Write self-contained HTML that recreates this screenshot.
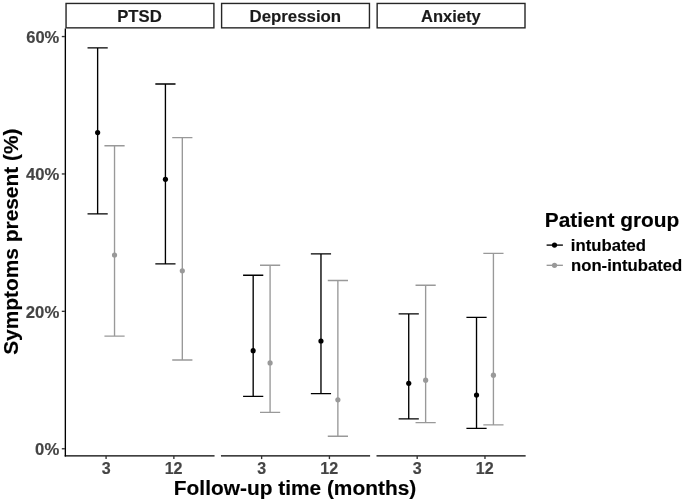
<!DOCTYPE html>
<html><head><meta charset="utf-8"><title>Symptoms chart</title>
<style>
html,body{margin:0;padding:0;background:#fff;}
body{width:685px;height:504px;overflow:hidden;font-family:"Liberation Sans",sans-serif;}
svg{display:block;will-change:transform;}
text{font-family:"Liberation Sans",sans-serif;font-weight:bold;}
</style></head>
<body>
<svg width="685" height="504" viewBox="0 0 685 504">
<rect width="685" height="504" fill="#ffffff"/>
<rect x="66.05" y="3.45" width="147.85" height="24.4" fill="#fff" stroke="#262626" stroke-width="1.4"/>
<text x="117.20" y="21.7" font-size="16.3" fill="#1a1a1a" stroke="#1a1a1a" stroke-width="0.15" textLength="44.56" lengthAdjust="spacingAndGlyphs">PTSD</text>
<path d="M64.70 455.9H214.55" stroke="#000000" stroke-width="1.35" fill="none"/>
<path d="M106.08 455.9V459.09999999999997" stroke="#333333" stroke-width="1.35"/>
<text x="101.71" y="473.9" font-size="16.3" fill="#444444" stroke="#444444" stroke-width="0.15" textLength="8.92" lengthAdjust="spacingAndGlyphs">3</text>
<path d="M87.53 47.9H107.73M97.63 47.9V213.8M87.53 213.8H107.73" stroke="#000000" stroke-width="1.35" fill="none"/>
<circle cx="97.63" cy="132.6" r="2.6" fill="#000000"/>
<path d="M104.43 145.7H124.63M114.53 145.7V336.1M104.43 336.1H124.63" stroke="#999999" stroke-width="1.35" fill="none"/>
<circle cx="114.53" cy="255.0" r="2.6" fill="#999999"/>
<path d="M173.87 455.9V459.09999999999997" stroke="#333333" stroke-width="1.35"/>
<text x="164.68" y="473.9" font-size="16.3" fill="#444444" stroke="#444444" stroke-width="0.15" textLength="17.91" lengthAdjust="spacingAndGlyphs">12</text>
<path d="M155.32 84.0H175.52M165.42 84.0V263.9M155.32 263.9H175.52" stroke="#000000" stroke-width="1.35" fill="none"/>
<circle cx="165.42" cy="179.3" r="2.6" fill="#000000"/>
<path d="M172.22 137.6H192.42M182.32 137.6V360.0M172.22 360.0H192.42" stroke="#999999" stroke-width="1.35" fill="none"/>
<circle cx="182.32" cy="270.8" r="2.6" fill="#999999"/>
<rect x="221.60" y="3.45" width="147.85" height="24.4" fill="#fff" stroke="#262626" stroke-width="1.4"/>
<text x="249.49" y="21.7" font-size="16.3" fill="#1a1a1a" stroke="#1a1a1a" stroke-width="0.15" textLength="91.66" lengthAdjust="spacingAndGlyphs">Depression</text>
<path d="M220.95 455.9H370.10" stroke="#000000" stroke-width="1.35" fill="none"/>
<path d="M261.63 455.9V459.09999999999997" stroke="#333333" stroke-width="1.35"/>
<text x="257.26" y="473.9" font-size="16.3" fill="#444444" stroke="#444444" stroke-width="0.15" textLength="8.92" lengthAdjust="spacingAndGlyphs">3</text>
<path d="M243.08 275.2H263.28M253.18 275.2V396.4M243.08 396.4H263.28" stroke="#000000" stroke-width="1.35" fill="none"/>
<circle cx="253.18" cy="350.7" r="2.6" fill="#000000"/>
<path d="M259.98 265.2H280.18M270.08 265.2V412.4M259.98 412.4H280.18" stroke="#999999" stroke-width="1.35" fill="none"/>
<circle cx="270.08" cy="362.9" r="2.6" fill="#999999"/>
<path d="M329.42 455.9V459.09999999999997" stroke="#333333" stroke-width="1.35"/>
<text x="320.23" y="473.9" font-size="16.3" fill="#444444" stroke="#444444" stroke-width="0.15" textLength="17.91" lengthAdjust="spacingAndGlyphs">12</text>
<path d="M310.87 253.8H331.07M320.97 253.8V393.6M310.87 393.6H331.07" stroke="#000000" stroke-width="1.35" fill="none"/>
<circle cx="320.97" cy="341.0" r="2.6" fill="#000000"/>
<path d="M327.77 280.5H347.97M337.87 280.5V436.2M327.77 436.2H347.97" stroke="#999999" stroke-width="1.35" fill="none"/>
<circle cx="337.87" cy="399.8" r="2.6" fill="#999999"/>
<rect x="377.15" y="3.45" width="147.85" height="24.4" fill="#fff" stroke="#262626" stroke-width="1.4"/>
<text x="420.97" y="21.7" font-size="16.3" fill="#1a1a1a" stroke="#1a1a1a" stroke-width="0.15" textLength="59.69" lengthAdjust="spacingAndGlyphs">Anxiety</text>
<path d="M376.50 455.9H525.65" stroke="#000000" stroke-width="1.35" fill="none"/>
<path d="M417.18 455.9V459.09999999999997" stroke="#333333" stroke-width="1.35"/>
<text x="412.81" y="473.9" font-size="16.3" fill="#444444" stroke="#444444" stroke-width="0.15" textLength="8.92" lengthAdjust="spacingAndGlyphs">3</text>
<path d="M398.63 313.8H418.83M408.73 313.8V418.8M398.63 418.8H418.83" stroke="#000000" stroke-width="1.35" fill="none"/>
<circle cx="408.73" cy="383.3" r="2.6" fill="#000000"/>
<path d="M415.53 285.2H435.73M425.63 285.2V422.6M415.53 422.6H435.73" stroke="#999999" stroke-width="1.35" fill="none"/>
<circle cx="425.63" cy="380.2" r="2.6" fill="#999999"/>
<path d="M484.97 455.9V459.09999999999997" stroke="#333333" stroke-width="1.35"/>
<text x="475.78" y="473.9" font-size="16.3" fill="#444444" stroke="#444444" stroke-width="0.15" textLength="17.91" lengthAdjust="spacingAndGlyphs">12</text>
<path d="M466.42 317.4H486.62M476.52 317.4V428.3M466.42 428.3H486.62" stroke="#000000" stroke-width="1.35" fill="none"/>
<circle cx="476.52" cy="395.0" r="2.6" fill="#000000"/>
<path d="M483.32 253.3H503.52M493.42 253.3V424.8M483.32 424.8H503.52" stroke="#999999" stroke-width="1.35" fill="none"/>
<circle cx="493.42" cy="375.2" r="2.6" fill="#999999"/>
<path d="M65.35 28.45V456.575" stroke="#000000" stroke-width="1.35" fill="none"/>
<path d="M61.80 448.75H64.90" stroke="#333333" stroke-width="1.35"/>
<text x="35.11" y="454.95" font-size="16.3" fill="#444444" stroke="#444444" stroke-width="0.15" textLength="24.12" lengthAdjust="spacingAndGlyphs">0%</text>
<path d="M61.80 311.35H64.90" stroke="#333333" stroke-width="1.35"/>
<text x="25.81" y="317.55" font-size="16.3" fill="#444444" stroke="#444444" stroke-width="0.15" textLength="33.47" lengthAdjust="spacingAndGlyphs">20%</text>
<path d="M61.80 173.95H64.90" stroke="#333333" stroke-width="1.35"/>
<text x="25.99" y="180.15" font-size="16.3" fill="#444444" stroke="#444444" stroke-width="0.15" textLength="33.28" lengthAdjust="spacingAndGlyphs">40%</text>
<path d="M61.80 36.55H64.90" stroke="#333333" stroke-width="1.35"/>
<text x="26.22" y="42.75" font-size="16.3" fill="#444444" stroke="#444444" stroke-width="0.15" textLength="33.06" lengthAdjust="spacingAndGlyphs">60%</text>
<text x="173.86" y="495.2" font-size="20.7" fill="#000" stroke="#000" stroke-width="0.15" textLength="242.34" lengthAdjust="spacingAndGlyphs">Follow-up time (months)</text>
<text transform="translate(17.6 354.25) rotate(-90)" x="-0.63" y="0" font-size="20.7" fill="#000" stroke="#000" stroke-width="0.15" textLength="226.39" lengthAdjust="spacingAndGlyphs">Symptoms present (%)</text>
<text x="544.73" y="226.9" font-size="20.3" fill="#000" stroke="#000" stroke-width="0.15" textLength="134.57" lengthAdjust="spacingAndGlyphs">Patient group</text>
<path d="M546.6 245.1H562.9" stroke="#000000" stroke-width="1.35"/><circle cx="554.5" cy="245.1" r="2.6" fill="#000000"/>
<path d="M546.6 265.3H562.9" stroke="#999999" stroke-width="1.35"/><circle cx="554.5" cy="265.3" r="2.6" fill="#999999"/>
<text x="570.87" y="250.8" font-size="15.9" fill="#000" stroke="#000" stroke-width="0.15" textLength="75.15" lengthAdjust="spacingAndGlyphs">intubated</text>
<text x="571.00" y="270.6" font-size="15.9" fill="#000" stroke="#000" stroke-width="0.15" textLength="111.25" lengthAdjust="spacingAndGlyphs">non-intubated</text>
</svg>
</body></html>
